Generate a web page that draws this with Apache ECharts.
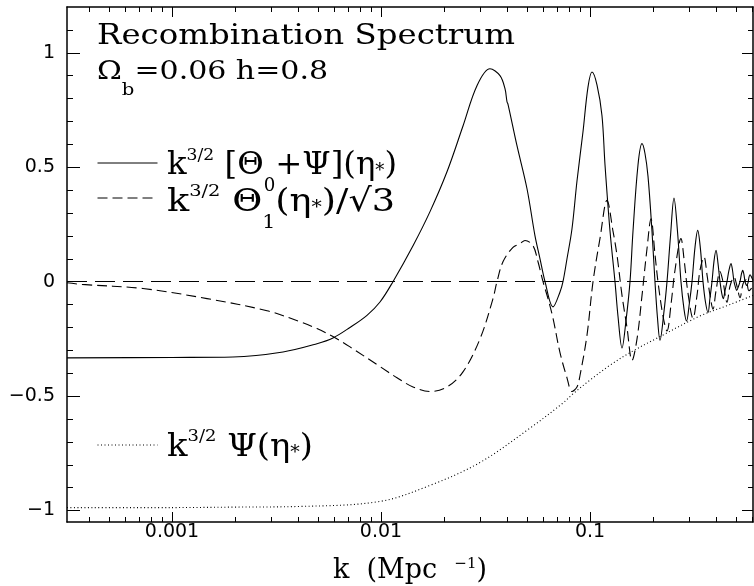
<!DOCTYPE html>
<html>
<head>
<meta charset="utf-8">
<script src="https://cdn.jsdelivr.net/npm/echarts@6/dist/echarts.min.js"></script>
<style>html,body{margin:0;padding:0;background:#fff}#c{width:754px;height:586px}</style>
</head>
<body>
<div id="c"></div>
<script>
// ---------- data ----------
const kSolid = [0.0003145, 0.001, 0.001958, 0.003397, 0.004941, 0.005892, 0.007107, 0.008570, 0.009890, 0.01141, 0.01423, 0.01716, 0.02069, 0.02468, 0.02879, 0.03322, 0.03710, 0.03920, 0.04008, 0.04053, 0.04474, 0.04996, 0.05456, 0.05766, 0.06093, 0.06653, 0.07186, 0.07427, 0.07762, 0.08201, 0.08665, 0.09258, 0.09781, 0.1022, 0.1080, 0.1141, 0.1180, 0.1247, 0.1317, 0.1361, 0.1423, 0.1487, 0.1554, 0.1606, 0.1697, 0.1774, 0.1833, 0.1895, 0.1980, 0.2046, 0.2104, 0.2162, 0.2260, 0.2336, 0.2428, 0.2523, 0.2622, 0.2725, 0.2817, 0.2896, 0.2993, 0.3077, 0.3180, 0.3276, 0.3379, 0.3473, 0.3570, 0.3670, 0.3752, 0.3835, 0.3921, 0.4008, 0.4097, 0.4188, 0.4268, 0.4344, 0.4426, 0.4524, 0.4625, 0.4728, 0.4807, 0.4887, 0.4968, 0.5034, 0.5135, 0.5221, 0.5308, 0.5378, 0.5456, 0.5517, 0.5578, 0.5621, 0.5702, 0.5765, 0.5829, 0.5926, 0.6025];
const vSolid = [-0.333, -0.331, -0.329, -0.307, -0.271, -0.246, -0.200, -0.147, -0.089, 0.000, 0.157, 0.306, 0.480, 0.680, 0.856, 0.930, 0.900, 0.843, 0.786, 0.775, 0.594, 0.406, 0.200, 0.100, 0.000, -0.110, -0.045, 0.000, 0.100, 0.231, 0.440, 0.655, 0.850, 0.916, 0.860, 0.726, 0.510, 0.220, 0.000, -0.150, -0.290, -0.170, 0.000, 0.220, 0.510, 0.603, 0.560, 0.460, 0.220, 0.000, -0.160, -0.256, -0.130, 0.000, 0.200, 0.365, 0.220, 0.000, -0.120, -0.172, -0.090, 0.000, 0.150, 0.224, 0.140, 0.000, -0.090, -0.135, -0.070, 0.000, 0.090, 0.137, 0.080, 0.000, -0.050, -0.074, -0.040, 0.000, 0.050, 0.079, 0.050, 0.000, -0.025, -0.038, -0.020, 0.000, 0.035, 0.050, 0.030, 0.000, -0.012, -0.016, -0.005, 0.020, 0.030, 0.020, 0.005];

const kDash = [0.0003145, 0.000371, 0.000726, 0.001471, 0.002848, 0.004097, 0.004941, 0.005892, 0.007107, 0.009890, 0.01193, 0.01423, 0.01716, 0.02069, 0.02468, 0.02976, 0.03435, 0.03589, 0.03834, 0.04281, 0.04625, 0.04887, 0.05338, 0.05640, 0.05960, 0.06295, 0.06653, 0.07186, 0.07762, 0.08201, 0.08665, 0.08957, 0.09674, 0.1034, 0.1117, 0.1206, 0.1289, 0.1347, 0.1423, 0.1503, 0.1589, 0.1679, 0.1774, 0.1874, 0.1959, 0.2046, 0.2115, 0.2235, 0.2336, 0.2441, 0.2551, 0.2725, 0.2817, 0.2944, 0.3111, 0.3251, 0.3360, 0.3512, 0.3630, 0.3752, 0.3878, 0.4008, 0.4188, 0.4329, 0.4524, 0.4676, 0.4887, 0.5051, 0.5221, 0.5396, 0.5578, 0.5765, 0.6025];
const vDash = [-0.005, -0.012, -0.030, -0.074, -0.127, -0.175, -0.205, -0.240, -0.285, -0.371, -0.420, -0.460, -0.480, -0.460, -0.394, -0.250, -0.074, 0.000, 0.087, 0.150, 0.166, 0.180, 0.157, 0.087, 0.000, -0.074, -0.160, -0.310, -0.420, -0.480, -0.460, -0.410, -0.234, 0.000, 0.190, 0.355, 0.220, 0.115, -0.060, -0.200, -0.344, -0.250, -0.060, 0.144, 0.275, 0.120, 0.000, -0.150, -0.215, -0.100, 0.050, 0.188, 0.100, -0.050, -0.160, -0.060, 0.050, 0.108, 0.030, -0.060, -0.120, -0.040, 0.044, 0.000, -0.090, -0.020, 0.020, -0.020, -0.070, -0.010, 0.008, -0.040, -0.020];

const kPsi = [0.0003145, 0.001, 0.001958, 0.004097, 0.009890, 0.01716, 0.02976, 0.05164, 0.07427, 0.08294, 0.1, 0.1247, 0.1554, 0.2162, 0.3360, 0.4676, 0.6025];
const vPsi = [-0.987, -0.987, -0.985, -0.982, -0.960, -0.890, -0.790, -0.640, -0.530, -0.490, -0.430, -0.365, -0.310, -0.240, -0.150, -0.100, -0.060];

const xRange = [0.0003145, 0.6025];
const yRange = [-1.05, 1.2];
const xMajorTicks = [0.001, 0.01, 0.1];
const xMinorTicks = [0.0004, 0.0005, 0.0006, 0.0007, 0.0008, 0.0009, 0.002, 0.003, 0.004, 0.005, 0.006, 0.007, 0.008, 0.009, 0.02, 0.03, 0.04, 0.05, 0.06, 0.07, 0.08, 0.09, 0.2, 0.3, 0.4, 0.5, 0.6];
const yMajorTicks = [-1, -0.5, 0, 0.5, 1];
const yMinorTicks = [-0.9, -0.8, -0.7, -0.6, -0.4, -0.3, -0.2, -0.1, 0.1, 0.2, 0.3, 0.4, 0.6, 0.7, 0.8, 0.9, 1.1];

const nameSolid = 'k^3/2 [Θ0+Ψ](η*)';
const nameDash = 'k^3/2 Θ1(η*)/√3';
const namePsi = 'k^3/2 Ψ(η*)';

// text rows: [style, text] tokens
const titleRow1 = [['m', 'Recombination Spectrum']];
const titleRow2 = [['m', '\u03A9'], ['sub', 'b'], ['m', '=0.06 h=0.8']];
const legRow1 = [['m', 'k'], ['sup', '3/2'], ['m', ' [\u0398'], ['sub', '0'], ['m', '+\u03A8](\u03B7'], ['st', '*'], ['m', ')']];
const legRow2 = [['m', 'k'], ['sup', '3/2'], ['m', ' \u0398'], ['sub', '1'], ['m', '(\u03B7'], ['st', '*'], ['m', ')/\u221A3']];
const legRow3 = [['m', 'k'], ['sup', '3/2'], ['m', ' \u03A8(\u03B7'], ['st', '*'], ['m', ')']];

// ---------- build ----------
const serif = '"DejaVu Serif", serif';
const sans = '"DejaVu Sans", sans-serif';
const pairs = (ks, vs) => ks.map((k, i) => [k, vs[i]]);
const ctx = document.createElement('canvas').getContext('2d');

function makeRich(F, pm, Fs, Fb, pSub, pStar) {
  return {
    m: {fontFamily: serif, fontSize: F, lineHeight: F, verticalAlign: 'top', padding: [pm, 0, 0, 0], fill: '#000'},
    sup: {fontFamily: serif, fontSize: Fs, lineHeight: Fs, verticalAlign: 'top', fill: '#000'},
    sub: {fontFamily: serif, fontSize: Fb, lineHeight: Fb, verticalAlign: 'top', padding: [pSub, 0, 0, 0], fill: '#000'},
    st: {fontFamily: serif, fontSize: Fb, lineHeight: Fb, verticalAlign: 'top', padding: [pStar, 0, 0, 0], fill: '#000'}
  };
}
function rowWidth(row, r) {
  let w = 0;
  for (const [s, t] of row) { ctx.font = r[s].fontSize + 'px "DejaVu Serif"'; w += ctx.measureText(t).width; }
  return w;
}
function textRow(x, y, width, row, r) {
  const text = row.map(([s, t]) => '{' + s + '|' + t + '}').join('');
  return {type: 'text', x: x, y: y, scaleX: width / rowWidth(row, r), silent: true,
    style: {text: text, rich: r, align: 'left', verticalAlign: 'top', fill: '#000'}};
}
const titRich1 = makeRich(28, 0, 16, 17, 0, 0);
const titRich2 = makeRich(26, 0, 15, 17, 23.5, 0);
const legRich = makeRich(32, 3, 17, 18, 30.8, 15.5);

function xAx(pos, ticks, len, showLine, labels) {
  return {
    type: 'log', logBase: 10, min: xRange[0], max: xRange[1], position: pos,
    axisLine: {show: showLine, onZero: false, lineStyle: {color: '#000', width: 1.5}},
    axisTick: {show: true, inside: true, length: len, customValues: ticks, lineStyle: {color: '#000', width: 1}},
    axisLabel: labels ? {show: true, customValues: ticks, margin: 1, color: '#000', fontFamily: sans, fontSize: 19,
      formatter: v => String(+(+v).toPrecision(3))} : {show: false},
    splitLine: {show: false}, minorTick: {show: false}, minorSplitLine: {show: false}
  };
}
function yAx(pos, ticks, len, showLine, labels) {
  return {
    type: 'value', min: yRange[0], max: yRange[1], position: pos,
    axisLine: {show: showLine, onZero: false, lineStyle: {color: '#000', width: 1.5}},
    axisTick: {show: true, inside: true, length: len, customValues: ticks, lineStyle: {color: '#000', width: 1}},
    axisLabel: labels ? {show: true, customValues: ticks, margin: 12, color: '#000', fontFamily: sans, fontSize: 19,
      formatter: v => v < 0 ? '\u2212' + String(-v) : String(v)} : {show: false},
    splitLine: {show: false}, minorTick: {show: false}, minorSplitLine: {show: false}
  };
}

const xMain = xAx('bottom', xMajorTicks, 10, true, true);
xMain.name = '{m|k  (Mpc  }{s|\u22121}{m|)}';
xMain.nameLocation = 'middle';
xMain.nameGap = 35;
xMain.nameTextStyle = {rich: {
  m: {fontFamily: serif, fontSize: 27, color: '#000', lineHeight: 30, verticalAlign: 'top'},
  s: {fontFamily: serif, fontSize: 15, color: '#000', lineHeight: 15, verticalAlign: 'top'}
}};

function legendFor(name, top) {
  return {data: [name], left: 97, top: top, padding: 0, itemWidth: 60, itemHeight: 10,
    selectedMode: false, formatter: () => '', itemStyle: {opacity: 0},
    lineStyle: {width: 1}, textStyle: {fontSize: 1}};
}

const option = {
  animation: false,
  backgroundColor: '#fff',
  grid: {left: 67, right: 1, top: 7, bottom: 64, containLabel: false, outerBoundsMode: 'none'},
  xAxis: [xMain, xAx('bottom', xMinorTicks, 5, false, false), xAx('top', xMajorTicks, 10, true, false), xAx('top', xMinorTicks, 5, false, false)],
  yAxis: [yAx('left', yMajorTicks, 13, true, true), yAx('left', yMinorTicks, 6, false, false), yAx('right', yMajorTicks, 11, true, false), yAx('right', yMinorTicks, 5, false, false)],
  legend: [legendFor(nameSolid, 158), legendFor(nameDash, 193), legendFor(namePsi, 440)],
  series: [
    {name: nameSolid, type: 'line', data: pairs(kSolid, vSolid), symbol: 'none', smooth: 0.35,
     lineStyle: {color: '#000', width: 1.1, type: 'solid'}, itemStyle: {color: '#000'},
     markLine: {silent: true, symbol: 'none', label: {show: false}, data: [{yAxis: 0}],
       lineStyle: {color: '#000', width: 1, type: [20, 8]}, emphasis: {disabled: true}}},
    {name: nameDash, type: 'line', data: pairs(kDash, vDash), symbol: 'none', smooth: 0.35,
     lineStyle: {color: '#000', width: 1.1, type: [10, 5]}, itemStyle: {color: '#000'}},
    {name: namePsi, type: 'line', data: pairs(kPsi, vPsi), symbol: 'none', smooth: 0.35,
     lineStyle: {color: '#000', width: 1.1, type: [1, 2.5]}, itemStyle: {color: '#000'}}
  ],
  graphic: [
    textRow(97, 23, 418, titleRow1, titRich1),
    textRow(97, 58.9, 231, titleRow2, titRich2),
    textRow(167, 146.8, 230, legRow1, legRich),
    textRow(167, 183.4, 228, legRow2, legRich),
    textRow(167, 428.4, 146, legRow3, legRich)
  ]
};

const chart = echarts.init(document.getElementById('c'), null, {renderer: 'canvas'});
chart.setOption(option);
</script>
</body>
</html>
